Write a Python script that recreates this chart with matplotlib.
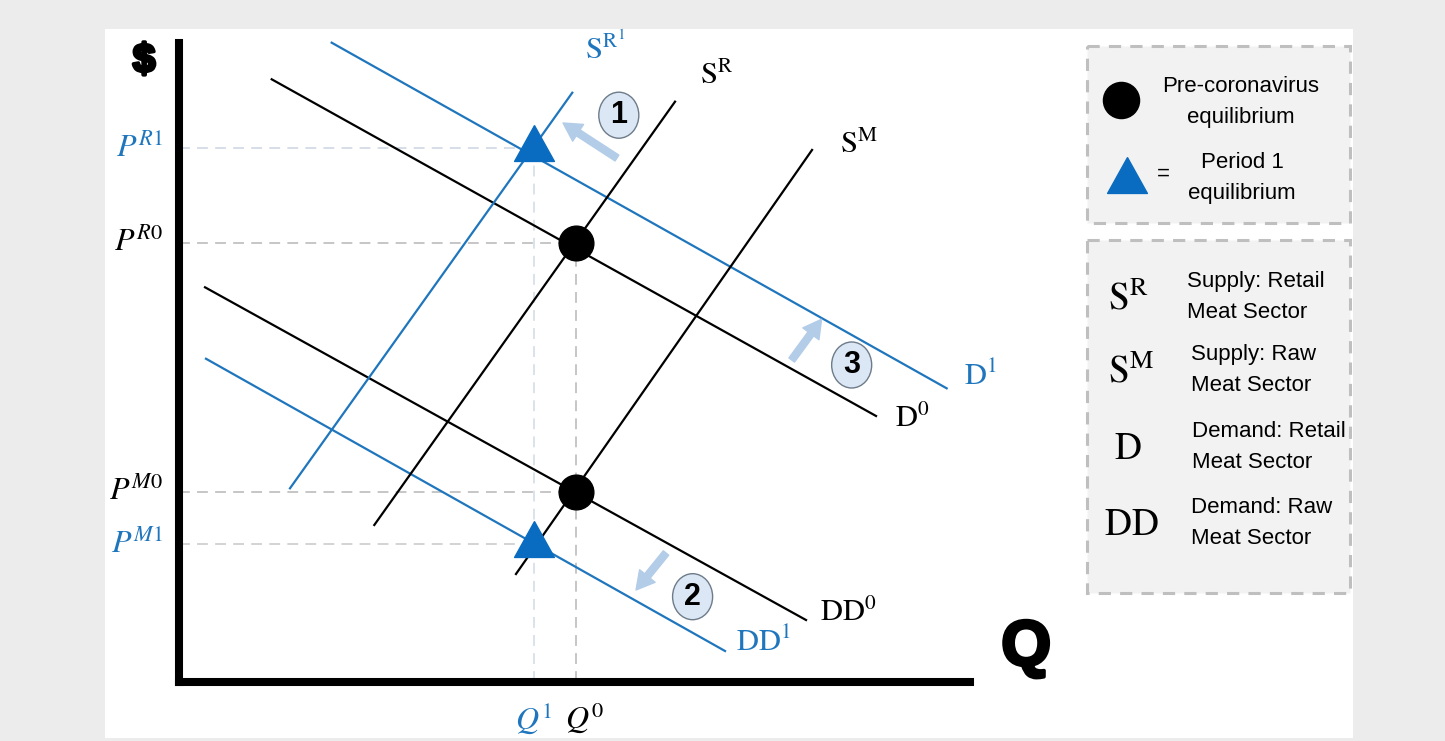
import matplotlib.pyplot as plt
from matplotlib.patches import Rectangle, Ellipse
import matplotlib.patheffects as pe

plt.rcParams['mathtext.fontset'] = 'stix'
plt.rcParams['font.family'] = ['Liberation Sans', 'DejaVu Sans']

# --- market data (axis units: quantity 0-100, price 0-100) ---
q0, q1 = 50.2, 44.85           # pre-coronavirus / period 1 quantity
pr0, pr1 = 68.75, 83.5         # retail prices
pm0, pm1 = 29.8, 21.6          # raw (meat packer) prices

curve_names = ['D^{0}', 'D^{1}', 'DD^{0}', 'DD^{1}', 'S^{R}', 'S^{R^{1}}', 'S^{M}']
curve_q = [[11.72, 88.12], [19.30, 97.05], [3.29, 79.27], [3.41, 69.03],
           [24.69, 62.71], [14.03, 49.72], [42.60, 80.03]]
curve_p = [[94.32, 41.63], [100.05, 45.96], [61.77, 9.70], [50.59, 4.85],
           [24.57, 90.82], [30.31, 92.22], [16.90, 83.26]]
curve_period = [0, 1, 0, 1, 0, 1, 0]

legend_symbols = ['S^{R}', 'S^{M}', 'D', 'DD']
legend_text = ['Supply: Retail\nMeat Sector', 'Supply: Raw\nMeat Sector',
               'Demand: Retail\nMeat Sector', 'Demand: Raw\nMeat Sector']

BLUE = '#1f76bd'
MARK_BLUE = '#0a6cc0'
ARROW = '#b3cde8'

# triangle whose reference point sits near the lower third
tri = [(0, 1.15), (-1, -0.65), (1, -0.65), (0, 1.15)]

fig = plt.figure(figsize=(14.45, 7.41), dpi=100, facecolor='#ececec')

# background panel + legend boxes in pixel space
bg = fig.add_axes([0, 0, 1, 1])
bg.set_xlim(0, 1445)
bg.set_ylim(741, 0)
bg.axis('off')
bg.add_patch(Rectangle((105, 29), 1248, 709, facecolor='white', edgecolor='none'))
for y, h in [(46, 177), (240, 353)]:
    bg.add_patch(Rectangle((1087, y), 263, h, facecolor='#f2f2f2', edgecolor='#bfbfbf',
                           lw=2.2, ls=(0, (4, 3))))

bg.plot(1121, 100, 'o', ms=26, color='black')
bg.text(1241, 102, 'Pre-coronavirus\nequilibrium', ha='center', va='center',
        fontsize=16, linespacing=1.65)
bg.plot(1126.5, 180, marker=tri, ms=33, color=MARK_BLUE, lw=0)
bg.text(1163, 174, '=', ha='center', va='center', fontsize=16)
bg.text(1242, 178, 'Period 1\nequilibrium', ha='center', va='center',
        fontsize=16, linespacing=1.65)

sym_x = [1128, 1131, 1128, 1131]
text_x = [1187, 1191, 1192, 1191]
row_y = [297, 370, 447, 523]
for s, t, sx, tx, y in zip(legend_symbols, legend_text, sym_x, text_x, row_y):
    bg.text(sx, y + 2, r'$\mathrm{%s}$' % s, ha='center', va='center', fontsize=27)
    bg.text(tx, y, t, ha='left', va='center', fontsize=16, linespacing=1.65)

# main diagram
ax = fig.add_axes([179 / 1445, 59 / 741, 791 / 1445, 639 / 741])
ax.set_facecolor('none')
ax.set_xlim(0, 100)
ax.set_ylim(0, 100)
ax.set_xticks([])
ax.set_yticks([])
for side in ['top', 'right']:
    ax.spines[side].set_visible(False)
for side in ['left', 'bottom']:
    ax.spines[side].set_linewidth(5.8)
    ax.spines[side].set_color('black')
ax.spines['bottom'].set_capstyle('projecting')

# guide lines to the axes
dash = (0, (6, 4))
ax.plot([0, q1], [pr1, pr1], color='#d3dbe6', lw=1.3, ls=dash, zorder=1)
ax.plot([0, q0], [pr0, pr0], color='#c2c2c2', lw=1.3, ls=dash, zorder=1)
ax.plot([0, q0], [pm0, pm0], color='#c2c2c2', lw=1.3, ls=dash, zorder=1)
ax.plot([0, q1], [pm1, pm1], color='#d0d0d0', lw=1.3, ls=dash, zorder=1)
ax.plot([q1, q1], [0, pr1], color='#d8dfe8', lw=1.3, ls=dash, zorder=1)
ax.plot([q0, q0], [0, pr0], color='#c2c2c2', lw=1.3, ls=dash, zorder=1)

# supply and demand curves
label_pos = [(92.7, 41.2), (101.3, 47.8), (84.6, 10.8), (73.9, 6.2),
             (68.0, 94.9), (53.8, 99.0), (86.0, 84.1)]
for name, qs, ps, per, (lx, ly) in zip(curve_names, curve_q, curve_p, curve_period, label_pos):
    c = BLUE if per else 'black'
    ax.plot(qs, ps, color=c, lw=1.6, zorder=2, clip_on=False)
    ax.text(lx, ly, r'$\mathrm{%s}$' % name, color=c, fontsize=22,
            ha='center', va='center', clip_on=False)

# equilibria
ax.plot([q0, q0], [pr0, pm0], 'o', ms=25, color='black', zorder=4)
ax.plot([q1, q1], [pr1, pm1], marker=tri, ms=33, color=MARK_BLUE, lw=0, zorder=4)

# shift arrows and step numbers
arrows = [((55.37, 82.0), (48.55, 87.48)),
          ((61.57, 20.19), (57.78, 14.40)),
          ((77.46, 50.39), (81.23, 56.76))]
for tail, tip in arrows:
    ax.annotate('', xy=tip, xytext=tail,
                arrowprops=dict(arrowstyle='simple,head_length=0.9,head_width=1.0,tail_width=0.35',
                                color=ARROW, shrinkA=0, shrinkB=0, mutation_scale=14.4),
                zorder=3)

badges = [('1', 55.6, 88.7), ('2', 64.93, 13.35), ('3', 85.04, 49.61)]
for num, bx, by in badges:
    ax.add_patch(Ellipse((bx, by), 5.06, 7.2, facecolor='#dbe7f4', edgecolor='#6d7b8a',
                         lw=1, zorder=3, clip_on=False))
    ax.text(bx, by, num, ha='center', va='center', fontsize=22, fontweight='bold',
            zorder=4, clip_on=False)

# axis tick labels
ax.text(-2.0, pr1, r'$P^{R1}$', color=BLUE, fontsize=23, ha='right', va='center', clip_on=False)
ax.text(-2.0, pr0, r'$P^{R0}$', color='black', fontsize=23, ha='right', va='center', clip_on=False)
ax.text(-2.0, pm0, r'$P^{M0}$', color='black', fontsize=23, ha='right', va='center', clip_on=False)
ax.text(-2.0, pm1, r'$P^{M1}$', color=BLUE, fontsize=23, ha='right', va='center', clip_on=False)
ax.text(q1, -5.6, r'$Q^{1}$', color=BLUE, fontsize=23, ha='center', va='center', clip_on=False)
ax.text(q0 + 1.1, -5.6, r'$Q^{0}$', color='black', fontsize=23, ha='center', va='center', clip_on=False)

# axis titles
heavy = [pe.withStroke(linewidth=2.5, foreground='black')]
ax.text(-4.42, 97.2, '$', fontsize=29, fontweight='bold', ha='center', va='center',
        clip_on=False, path_effects=heavy)
ax.text(107.1, 5.3, 'Q', fontsize=46, fontweight='bold', ha='center', va='center',
        clip_on=False, path_effects=heavy)

fig.savefig('out.png', dpi=100, facecolor=fig.get_facecolor())
